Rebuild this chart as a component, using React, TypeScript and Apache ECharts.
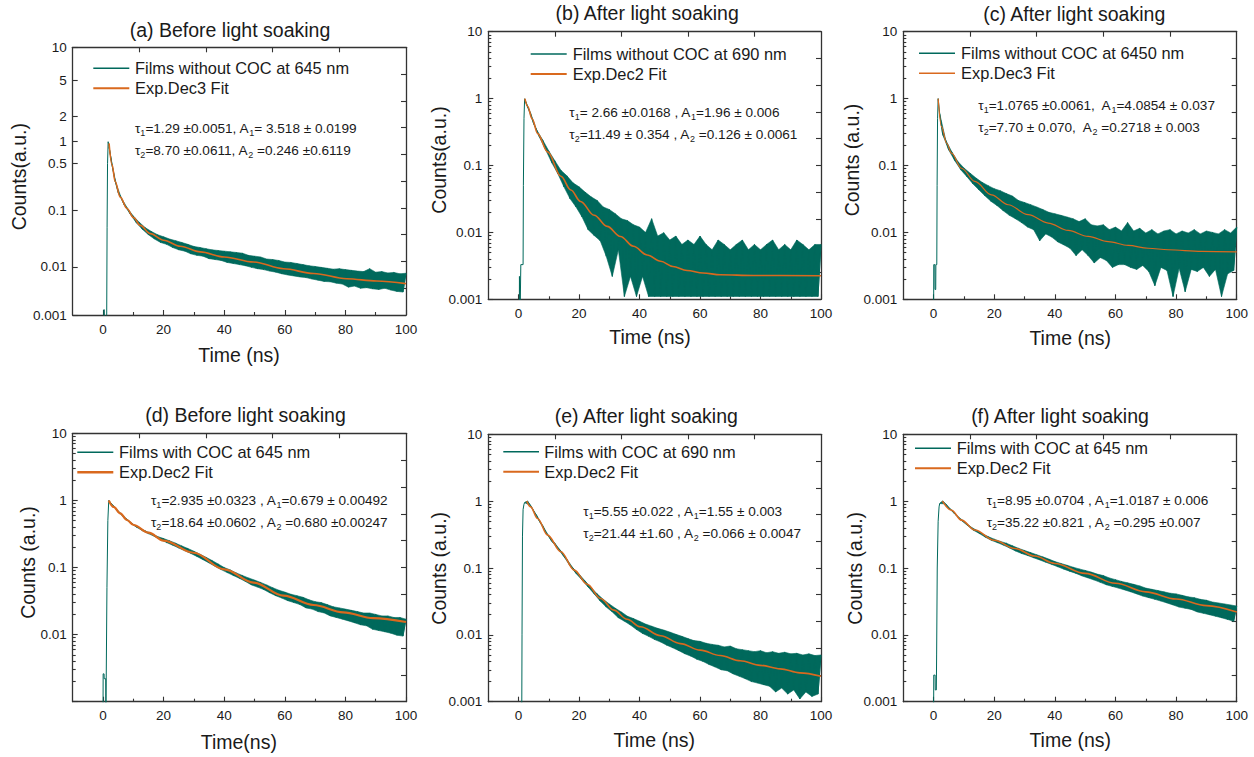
import { useEffect, useRef } from "react";
import * as echarts from "echarts";

const FONT = "'Liberation Sans', Arial, Helvetica, sans-serif";
const TEAL = "#00695C";
const ORANGE = "#D9691E";
const AXIS = "#333333";
const TXT = "#1a1a1a";

// time channels of the decay part (ns)
const TIME = [
  2, 3, 4, 5, 6, 7, 8, 9, 10, 11, 12, 13, 14, 15, 16, 17, 18, 19, 20, 21,
  22, 23, 24, 25, 26, 27, 28, 29, 30, 31, 32, 33, 34, 35, 36, 37, 38, 39, 40, 41,
  42, 43, 44, 45, 46, 47, 48, 49, 50, 51, 52, 53, 54, 55, 56, 57, 58, 59, 60, 61,
  62, 63, 64, 65, 66, 67, 68, 69, 70, 71, 72, 73, 74, 75, 76, 77, 78, 79, 80, 81,
  82, 83, 84, 85, 86, 87, 88, 89, 90, 91, 92, 93, 94, 95, 96, 97, 98, 99, 100,
];

// ---------- panel (a)
const RISE_A = [[-10, 0.0005], [0.3, 0.0005], [0.35, 0.0013], [0.5, 0.0013], [0.55, 0.0005], [1.2, 0.0005], [1.35, 0.05], [1.5, 0.5], [1.7, 1.0]];
const DECAY_A = [
  0.85, 0.47, 0.275, 0.185, 0.155, 0.12, 0.108, 0.085, 0.079, 0.060,
  0.061, 0.046, 0.049, 0.037, 0.042, 0.031, 0.037, 0.027, 0.034, 0.025,
  0.031, 0.022, 0.029, 0.020, 0.027, 0.019, 0.025, 0.017, 0.023, 0.016,
  0.022, 0.0155, 0.021, 0.014, 0.020, 0.0135, 0.0195, 0.013, 0.019, 0.012,
  0.0185, 0.0115, 0.018, 0.011, 0.0175, 0.0105, 0.016, 0.0098, 0.0155, 0.0092,
  0.015, 0.0088, 0.0138, 0.0082, 0.0135, 0.0078, 0.013, 0.0072, 0.0122, 0.0068,
  0.012, 0.0065, 0.0115, 0.0062, 0.011, 0.006, 0.0105, 0.0056, 0.0102, 0.0053,
  0.0098, 0.005, 0.0094, 0.0049, 0.009, 0.0046, 0.0092, 0.0044, 0.0088, 0.0038,
  0.0085, 0.004, 0.0082, 0.0036, 0.008, 0.0037, 0.0092, 0.0035, 0.0078, 0.0034,
  0.008, 0.0036, 0.0075, 0.0033, 0.0077, 0.0031, 0.0072, 0.003, 0.0074,
];
const FIT_A = [[2, 0.95], [3, 0.48], [4, 0.27], [5.7, 0.157], [7.9, 0.106], [10.1, 0.074], [12.3, 0.054], [15.6, 0.0387], [20, 0.0296], [25.5, 0.0232], [32.1, 0.0184], [40, 0.015], [49.7, 0.0122], [59.6, 0.0092], [69.5, 0.0073], [80.4, 0.0057], [90.3, 0.0051], [100, 0.0045]];

// ---------- panel (b)
const RISE_B = [[-10, 0.0005], [0.25, 0.0005], [0.3, 0.0022], [0.45, 0.0022], [0.5, 0.0005], [0.7, 0.0005], [0.75, 0.0033], [1.5, 0.0033], [1.6, 0.05], [1.8, 0.5], [2.0, 0.98]];
const DECAY_B = [
  1.0, 0.75, 0.60, 0.42, 0.34, 0.26, 0.24, 0.17, 0.165, 0.11,
  0.118, 0.075, 0.085, 0.048, 0.07, 0.032, 0.055, 0.024, 0.048, 0.017,
  0.04, 0.011, 0.034, 0.009, 0.03, 0.0075, 0.024, 0.0044, 0.022, 0.0022,
  0.019, 0.0055, 0.016, 0.0011, 0.015, 0.0022, 0.013, 0.0011, 0.012, 0.0022,
  0.010, 0.0011, 0.016, 0.0011, 0.0088, 0.0011, 0.0099, 0.0011, 0.0077, 0.0011,
  0.0088, 0.0011, 0.0066, 0.0011, 0.0077, 0.0011, 0.0066, 0.0011, 0.0088, 0.0011,
  0.0066, 0.0011, 0.0055, 0.0011, 0.0077, 0.0011, 0.0066, 0.0011, 0.0055, 0.0011,
  0.0066, 0.0011, 0.0077, 0.0011, 0.0055, 0.0011, 0.0066, 0.0011, 0.0055, 0.0011,
  0.0066, 0.0011, 0.0077, 0.0011, 0.0055, 0.0011, 0.0066, 0.0011, 0.0055, 0.0011,
  0.0077, 0.0011, 0.0066, 0.0011, 0.0055, 0.0011, 0.0066, 0.0011, 0.0066,
];
const FIT_B = [[2.1, 1.0], [3, 0.77], [4.5, 0.5], [6.3, 0.30], [9.6, 0.16], [14, 0.069], [17.3, 0.043], [20.5, 0.029], [25, 0.018], [29.3, 0.0123], [33.7, 0.0087], [38, 0.0062], [42.5, 0.0046], [47, 0.0037], [51, 0.0031], [55.7, 0.0027], [61, 0.00247], [66.7, 0.00233], [77.7, 0.00227], [100, 0.00225]];

// ---------- panel (c)
const RISE_C = [[-10, 0.0005], [0, 0.0005], [0.05, 0.0033], [0.4, 0.0033], [0.45, 0.0014], [0.7, 0.0014], [0.75, 0.0033], [1.05, 0.0033], [1.15, 0.05], [1.3, 0.5], [1.5, 1.0]];
const DECAY_C = [
  0.6, 0.29, 0.24, 0.17, 0.16, 0.118, 0.115, 0.086, 0.092, 0.068,
  0.077, 0.053, 0.065, 0.043, 0.056, 0.035, 0.05, 0.029, 0.045, 0.025,
  0.042, 0.021, 0.038, 0.018, 0.035, 0.016, 0.030, 0.014, 0.028, 0.012,
  0.026, 0.011, 0.024, 0.0075, 0.022, 0.0095, 0.020, 0.0085, 0.019, 0.0072,
  0.018, 0.0065, 0.017, 0.0058, 0.016, 0.0045, 0.0145, 0.0055, 0.016, 0.0045,
  0.013, 0.0035, 0.0125, 0.0042, 0.013, 0.0038, 0.011, 0.003, 0.012, 0.0033,
  0.0105, 0.0033, 0.014, 0.003, 0.0105, 0.0028, 0.0115, 0.0032, 0.0098, 0.0026,
  0.011, 0.0016, 0.0095, 0.003, 0.0105, 0.0027, 0.011, 0.0011, 0.0095, 0.0029,
  0.0105, 0.0013, 0.0098, 0.0028, 0.011, 0.0026, 0.0095, 0.003, 0.0105, 0.0022,
  0.01, 0.0028, 0.0095, 0.0011, 0.011, 0.0024, 0.0098, 0.0027, 0.012,
];
const FIT_C = [[1.5, 1.0], [2.6, 0.38], [4.3, 0.215], [5.9, 0.153], [9.2, 0.091], [13.6, 0.058], [19.1, 0.0365], [24.6, 0.0259], [31.2, 0.0184], [37.8, 0.0138], [44.4, 0.0107], [51, 0.0087], [57.6, 0.0073], [64.2, 0.0064], [70.8, 0.0058], [77.4, 0.0055], [88.4, 0.0052], [100, 0.0051]];

// ---------- panel (d)
const RISE_D = [[-10, 0.0005], [0, 0.0005], [0.05, 0.0026], [0.35, 0.0026], [0.4, 0.0022], [0.9, 0.0022], [0.95, 0.0005], [1.1, 0.0005], [1.3, 0.05], [1.6, 0.5], [1.9, 1.0]];
const DECAY_D = [
  0.98, 0.87, 0.78, 0.68, 0.63, 0.55, 0.52, 0.46, 0.44, 0.40,
  0.39, 0.355, 0.35, 0.32, 0.32, 0.29, 0.29, 0.26, 0.27, 0.235,
  0.25, 0.215, 0.23, 0.195, 0.21, 0.178, 0.192, 0.162, 0.175, 0.146,
  0.158, 0.131, 0.142, 0.117, 0.127, 0.104, 0.113, 0.093, 0.100, 0.084,
  0.092, 0.076, 0.083, 0.069, 0.076, 0.062, 0.070, 0.055, 0.065, 0.051,
  0.060, 0.047, 0.055, 0.042, 0.050, 0.038, 0.046, 0.035, 0.043, 0.032,
  0.040, 0.030, 0.038, 0.028, 0.036, 0.025, 0.033, 0.024, 0.031, 0.022,
  0.030, 0.021, 0.028, 0.019, 0.026, 0.018, 0.025, 0.017, 0.024, 0.016,
  0.023, 0.015, 0.022, 0.014, 0.021, 0.0135, 0.021, 0.012, 0.020, 0.0115,
  0.019, 0.011, 0.019, 0.0105, 0.018, 0.0098, 0.018, 0.0095, 0.017,
];
const FIT_D = [[1.9, 1.0], [3.5, 0.8], [5.7, 0.64], [7.9, 0.51], [10.1, 0.43], [15, 0.33], [20, 0.252], [29.9, 0.166], [40, 0.094], [49.7, 0.0596], [59.6, 0.038], [69.5, 0.0276], [79.3, 0.0215], [89.2, 0.0176], [100, 0.0154]];

// ---------- panel (e)
const RISE_E = [[-10, 0.0005], [1.05, 0.0005], [1.15, 0.01], [1.3, 0.3], [1.5, 0.75], [1.8, 0.9]];
const DECAY_E = [
  0.95, 1.0, 0.86, 0.71, 0.61, 0.49, 0.43, 0.34, 0.30, 0.25,
  0.235, 0.195, 0.18, 0.148, 0.135, 0.108, 0.10, 0.083, 0.081, 0.066,
  0.064, 0.052, 0.051, 0.041, 0.041, 0.032, 0.034, 0.026, 0.029, 0.022,
  0.025, 0.018, 0.022, 0.016, 0.019, 0.014, 0.0175, 0.012, 0.016, 0.0105,
  0.0145, 0.0095, 0.0135, 0.0085, 0.0125, 0.0078, 0.0118, 0.007, 0.011, 0.0064,
  0.0102, 0.0058, 0.0095, 0.0052, 0.0088, 0.0048, 0.0082, 0.0043, 0.008, 0.004,
  0.0075, 0.0036, 0.0072, 0.0033, 0.007, 0.003, 0.0066, 0.0029, 0.0068, 0.0026,
  0.0062, 0.0024, 0.006, 0.0022, 0.0058, 0.002, 0.0056, 0.0019, 0.0058, 0.0018,
  0.0054, 0.0017, 0.0056, 0.0014, 0.0053, 0.0016, 0.0055, 0.0013, 0.0052, 0.0015,
  0.0053, 0.0011, 0.005, 0.0014, 0.0052, 0.0012, 0.0049, 0.0013, 0.005,
];
const FIT_E = [[2.7, 1.0], [4, 0.82], [6.3, 0.55], [9.6, 0.31], [14, 0.175], [18.4, 0.093], [22.7, 0.057], [27.1, 0.035], [31.5, 0.0234], [35.9, 0.0171], [40.3, 0.0132], [47, 0.0097], [53.5, 0.0074], [60.1, 0.0059], [66.7, 0.0049], [73.3, 0.0041], [79.9, 0.0035], [86.5, 0.0031], [93, 0.0027], [100, 0.0024]];

// ---------- panel (f)
const RISE_F = [[-10, 0.0005], [0, 0.0005], [0.05, 0.0025], [0.5, 0.0025], [0.55, 0.0015], [0.9, 0.0015], [1.0, 0.005], [1.2, 0.1], [1.5, 0.5], [1.8, 0.82]];
const DECAY_F = [
  0.92, 1.0, 0.91, 0.79, 0.73, 0.64, 0.59, 0.52, 0.50, 0.44,
  0.42, 0.37, 0.37, 0.33, 0.325, 0.29, 0.295, 0.26, 0.27, 0.24,
  0.25, 0.22, 0.235, 0.20, 0.215, 0.18, 0.197, 0.165, 0.183, 0.154,
  0.17, 0.142, 0.158, 0.132, 0.147, 0.122, 0.136, 0.113, 0.125, 0.104,
  0.117, 0.096, 0.110, 0.089, 0.103, 0.083, 0.097, 0.076, 0.092, 0.071,
  0.087, 0.066, 0.081, 0.061, 0.077, 0.056, 0.071, 0.053, 0.067, 0.050,
  0.063, 0.047, 0.060, 0.044, 0.057, 0.041, 0.054, 0.038, 0.050, 0.036,
  0.048, 0.034, 0.046, 0.032, 0.044, 0.030, 0.042, 0.028, 0.041, 0.026,
  0.039, 0.025, 0.037, 0.024, 0.036, 0.022, 0.034, 0.021, 0.033, 0.020,
  0.031, 0.019, 0.030, 0.018, 0.029, 0.017, 0.028, 0.016, 0.027,
];
const FIT_F = [[2.9, 1.0], [5.9, 0.73], [9.2, 0.52], [13.6, 0.37], [20, 0.26], [26.8, 0.196], [33.4, 0.151], [40, 0.117], [50, 0.083], [60, 0.059], [70, 0.044], [80, 0.0344], [90, 0.0274], [100, 0.0219]];

// ---------- ticks
const X_MAJOR = [0, 20, 40, 60, 80, 100];
const X_MINOR = [10, 30, 50, 70, 90];
const TOP_TICKS = [1, 2, 3, 4];
const RIGHT_TICKS = [1, 2, 3, 4, 5, 6, 7, 8, 9];
const LOG_MINOR = [
  0.002, 0.003, 0.004, 0.005, 0.006, 0.007, 0.008, 0.009,
  0.02, 0.03, 0.04, 0.05, 0.06, 0.07, 0.08, 0.09,
  0.2, 0.3, 0.4, 0.5, 0.6, 0.7, 0.8, 0.9,
  2, 3, 4, 5, 6, 7, 8, 9,
];
// panel (a) has an uneven (non-log) vertical scale: label values and their relative heights
const A_TICK_VALUES = [10, 5, 2, 1, 0.5, 0.1, 0.01, 0.001];
const A_TICK_LABELS = ["10", "5", "2", "1", "0.5", "0.1", "0.01", "0.001"];
const A_TICK_FRAC = [0, 0.1233, 0.2592, 0.3527, 0.4348, 0.6085, 0.8205, 1];

function warpA(v: number): number {
  const u = 1 - Math.log10(v);
  const us = A_TICK_VALUES.map((x) => 1 - Math.log10(x));
  for (let i = 0; i < us.length - 1; i++) {
    if (u <= us[i + 1] || i === us.length - 2) {
      const f = (u - us[i]) / (us[i + 1] - us[i]);
      return A_TICK_FRAC[i] + f * (A_TICK_FRAC[i + 1] - A_TICK_FRAC[i]);
    }
  }
  return 1;
}

type Panel = {
  rise: number[][];
  decay: number[];
  fit: number[][];
  grid: number[];
  warped?: boolean;
  hideMin?: boolean;
  title: [string, number, number];
  yName: [string, number, number];
  xName: [string, number, number];
  legend: { x1: number; x2: number; tx: number; y1: number; y2: number; l1: string; l2: string; fitW: number };
  ann: { x: number; y1: number; y2: number; l1: string; l2: string };
};

const PANELS: Panel[] = [
  {
    rise: RISE_A, decay: DECAY_A, fit: FIT_A, grid: [72.7, 47.3, 333.3, 267.7], warped: true,
    title: ["(a) Before light soaking", 230, 30],
    yName: ["Counts(a.u.)", 18.5, 176.7],
    xName: ["Time (ns)", 239, 355],
    legend: { x1: 93.3, x2: 129.3, tx: 135, y1: 68.3, y2: 88.3, l1: "Films without COC at 645 nm", l2: "Exp.Dec3 Fit", fitW: 1.6 },
    ann: { x: 135, y1: 128.3, y2: 150, l1: "{n|τ}{s|1}{n|=1.29 ±0.0051, A}{s|1}{n|= 3.518 ± 0.0199}", l2: "{n|τ}{s|2}{n|=8.70 ±0.0611, A}{s|2}{n| =0.246 ±0.6119}" },
  },
  {
    rise: RISE_B, decay: DECAY_B, fit: FIT_B, grid: [488.3, 31.7, 332.7, 267.6],
    title: ["(b) After light soaking", 647.2, 13.3],
    yName: ["Counts(a.u.)", 439, 160],
    xName: ["Time (ns)", 650, 336.7],
    legend: { x1: 530.7, x2: 566.7, tx: 572.7, y1: 54, y2: 74, l1: "Films without COC at 690 nm", l2: "Exp.Dec2 Fit", fitW: 1.6 },
    ann: { x: 569.3, y1: 112.7, y2: 134.3, l1: "{n|τ}{s|1}{n|= 2.66 ±0.0168 , A}{s|1}{n|=1.96 ± 0.006}", l2: "{n|τ}{s|2}{n|=11.49 ± 0.354 , A}{s|2}{n| =0.126 ± 0.0061}" },
  },
  {
    rise: RISE_C, decay: DECAY_C, fit: FIT_C, grid: [903.3, 31.7, 333.4, 267.6],
    title: ["(c) After light soaking", 1074.2, 14],
    yName: ["Counts (a.u.)", 851.7, 160],
    xName: ["Time (ns)", 1070.2, 338.3],
    legend: { x1: 919, x2: 955, tx: 961, y1: 53.3, y2: 73.3, l1: "Films without COC at 6450 nm", l2: "Exp.Dec3 Fit", fitW: 1.2 },
    ann: { x: 978.3, y1: 105.3, y2: 127.3, l1: "{n|τ}{s|1}{n|=1.0765 ±0.0061,  A}{s|1}{n|=4.0854 ± 0.037}", l2: "{n|τ}{s|2}{n|=7.70 ± 0.070,  A}{s|2}{n| =0.2718 ± 0.003}" },
  },
  {
    rise: RISE_D, decay: DECAY_D, fit: FIT_D, grid: [72.7, 433.3, 333.3, 268.4], hideMin: true,
    title: ["(d) Before light soaking", 245.5, 415],
    yName: ["Counts (a.u.)", 28.3, 562.5],
    xName: ["Time(ns)", 238.8, 741.7],
    legend: { x1: 77.3, x2: 113.3, tx: 119, y1: 452.3, y2: 472.3, l1: "Films with COC at 645 nm", l2: "Exp.Dec2 Fit", fitW: 2.2 },
    ann: { x: 151, y1: 500.3, y2: 522.3, l1: "{n|τ}{s|1}{n|=2.935 ±0.0323 , A}{s|1}{n|=0.679 ± 0.00492}", l2: "{n|τ}{s|2}{n|=18.64 ±0.0602 , A}{s|2}{n| =0.680 ±0.00247}" },
  },
  {
    rise: RISE_E, decay: DECAY_E, fit: FIT_E, grid: [488.3, 434.3, 332.7, 267.4],
    title: ["(e) After light soaking", 646.3, 415.7],
    yName: ["Counts (a.u.)", 439, 568.3],
    xName: ["Time (ns)", 654.3, 740],
    legend: { x1: 503.3, x2: 539, tx: 544.3, y1: 451.7, y2: 471.7, l1: "Films with COC at 690 nm", l2: "Exp.Dec2 Fit", fitW: 1.6 },
    ann: { x: 583.3, y1: 511.7, y2: 533.3, l1: "{n|τ}{s|1}{n|=5.55 ±0.022 , A}{s|1}{n|=1.55 ± 0.003}", l2: "{n|τ}{s|2}{n|=21.44 ±1.60 , A}{s|2}{n| =0.066 ± 0.0047}" },
  },
  {
    rise: RISE_F, decay: DECAY_F, fit: FIT_F, grid: [903.3, 434.3, 333.4, 267.4],
    title: ["(f) After light soaking", 1060, 415.7],
    yName: ["Counts (a.u.)", 855, 568.3],
    xName: ["Time (ns)", 1070.2, 740],
    legend: { x1: 915, x2: 951, tx: 956.7, y1: 448.3, y2: 468.3, l1: "Films with COC at 645 nm", l2: "Exp.Dec2 Fit", fitW: 1.6 },
    ann: { x: 986.7, y1: 500.3, y2: 522.3, l1: "{n|τ}{s|1}{n|=8.95 ±0.0704 , A}{s|1}{n|=1.0187 ± 0.006}", l2: "{n|τ}{s|2}{n|=35.22 ±0.821 , A}{s|2}{n| =0.295 ±0.007}" },
  },
];

function text(str: string, x: number, y: number, size: number, align = "center", rotation = 0) {
  return {
    type: "text",
    x,
    y,
    rotation,
    silent: true,
    style: {
      text: str,
      x: 0,
      y: 0,
      fontSize: size,
      fontFamily: FONT,
      fill: TXT,
      align,
      verticalAlign: "middle",
      textAlign: align,
      textVerticalAlign: "middle",
    },
  };
}

function richText(str: string, x: number, y: number) {
  return {
    type: "text",
    x,
    y,
    silent: true,
    style: {
      text: str,
      x: 0,
      y: 0,
      fontSize: 13.6,
      fontFamily: FONT,
      fill: TXT,
      align: "left",
      verticalAlign: "middle",
      textAlign: "left",
      textVerticalAlign: "middle",
      rich: {
        n: { fontSize: 13.6, fontFamily: FONT, fill: TXT, lineHeight: 20, verticalAlign: "middle" },
        s: { fontSize: 9, fontFamily: FONT, fill: TXT, verticalAlign: "bottom", padding: [0, 0, 1, 0] },
      },
    },
  };
}

function buildOption() {
  const grid: any[] = [];
  const xAxis: any[] = [];
  const yAxis: any[] = [];
  const series: any[] = [];
  const graphic: any[] = [];
  const lineStyle = { color: AXIS, width: 1.3 };
  const tickStyle = { color: AXIS, width: 1.1 };

  PANELS.forEach((p, i) => {
    const [l, t, w, h] = p.grid;
    grid.push({ left: l, top: t, width: w, height: h, containLabel: false });
    const tx = (pt: number[]) => (p.warped ? [pt[0], warpA(pt[1])] : pt);

    xAxis.push(
      {
        gridIndex: i, type: "value", min: -10, max: 100, position: "bottom",
        axisLine: { onZero: false, lineStyle },
        axisTick: { inside: true, length: 5, lineStyle: tickStyle, customValues: X_MAJOR },
        axisLabel: { customValues: X_MAJOR, color: TXT, fontSize: 13.5, fontFamily: FONT, margin: 7 },
        splitLine: { show: false },
      },
      {
        gridIndex: i, type: "value", min: -10, max: 100, position: "bottom",
        axisLine: { show: false, onZero: false },
        axisTick: { inside: true, length: 3, lineStyle: tickStyle, customValues: X_MINOR },
        axisLabel: { show: false }, splitLine: { show: false },
      },
      {
        gridIndex: i, type: "value", min: 0, max: 5, position: "top",
        axisLine: { onZero: false, lineStyle },
        axisTick: { inside: true, length: 5, lineStyle: tickStyle, customValues: TOP_TICKS },
        axisLabel: { show: false }, splitLine: { show: false },
      }
    );

    if (p.warped) {
      yAxis.push(
        {
          gridIndex: i, type: "value", min: 0, max: 1, inverse: true, position: "left",
          axisLine: { onZero: false, lineStyle },
          axisTick: { inside: true, length: 5, lineStyle: tickStyle, customValues: A_TICK_FRAC },
          axisLabel: {
            customValues: A_TICK_FRAC, color: TXT, fontSize: 13.5, fontFamily: FONT, margin: 6,
            formatter: (v: number) => {
              let best = 0;
              A_TICK_FRAC.forEach((f, k) => { if (Math.abs(f - v) < Math.abs(A_TICK_FRAC[best] - v)) best = k; });
              return A_TICK_LABELS[best];
            },
          },
          splitLine: { show: false },
        },
        { gridIndex: i, type: "value", min: 0, max: 1, inverse: true, position: "left", show: false, axisLine: { onZero: false } }
      );
    } else {
      yAxis.push(
        {
          gridIndex: i, type: "log", logBase: 10, min: 0.001, max: 10, position: "left",
          axisLine: { onZero: false, lineStyle },
          axisTick: { inside: true, length: 5, lineStyle: tickStyle },
          axisLabel: {
            color: TXT, fontSize: 13.5, fontFamily: FONT, margin: 6,
            formatter: (v: number) => {
              if (p.hideMin && v < 0.002) return "";
              return v >= 1 ? String(Math.round(v)) : String(parseFloat(v.toPrecision(1)));
            },
          },
          splitLine: { show: false },
        },
        {
          // minor log ticks: a linear axis over the decade exponents (-3 .. 1)
          gridIndex: i, type: "value", min: -3, max: 1, position: "left",
          axisLine: { show: false, onZero: false },
          axisTick: { inside: true, length: 3, lineStyle: tickStyle, customValues: LOG_MINOR.map((v) => Math.log10(v)) },
          axisLabel: { show: false }, splitLine: { show: false },
        }
      );
    }
    yAxis.push({
      gridIndex: i, type: "value", min: 0, max: 10, position: "right",
      axisLine: { onZero: false, lineStyle },
      axisTick: { inside: true, length: 5, lineStyle: tickStyle, customValues: RIGHT_TICKS },
      axisLabel: { show: false }, splitLine: { show: false },
    });

    const decayPts = TIME.map((tt, k) => [tt, p.decay[k]]);
    const hi = decayPts.filter((_, k) => k % 2 === 0);
    const lo = decayPts.filter((_, k) => k % 2 === 1).reverse();
    const poly = [...hi, ...lo].map(tx);
    const green = [...p.rise, ...decayPts].map(tx);

    series.push(
      {
        type: "custom", xAxisIndex: 3 * i, yAxisIndex: 3 * i, silent: true, z: 2,
        data: [[50, p.warped ? 0.5 : 0.1]],
        renderItem: (_params: any, api: any) => ({
          type: "polygon",
          shape: { points: poly.map((pt) => api.coord(pt)) },
          style: { fill: TEAL, stroke: TEAL, lineWidth: 0.6 },
        }),
      },
      {
        type: "line", xAxisIndex: 3 * i, yAxisIndex: 3 * i, data: green, showSymbol: false, symbol: "none",
        lineStyle: { color: TEAL, width: 1 }, clip: true, silent: true, z: 3,
      },
      {
        type: "line", xAxisIndex: 3 * i, yAxisIndex: 3 * i, data: p.fit.map(tx), showSymbol: false, symbol: "none",
        smooth: 0.35, smoothMonotone: "x",
        lineStyle: { color: ORANGE, width: p.legend.fitW }, clip: true, silent: true, z: 4,
      }
    );

    graphic.push(text(p.title[0], p.title[1], p.title[2], 19.5));
    graphic.push(text(p.yName[0], p.yName[1], p.yName[2], 19.5, "center", Math.PI / 2));
    graphic.push(text(p.xName[0], p.xName[1], p.xName[2], 19.5));
    const lg = p.legend;
    graphic.push({ type: "line", silent: true, shape: { x1: lg.x1, y1: lg.y1, x2: lg.x2, y2: lg.y1 }, style: { stroke: TEAL, lineWidth: 1.5 } });
    graphic.push({ type: "line", silent: true, shape: { x1: lg.x1, y1: lg.y2, x2: lg.x2, y2: lg.y2 }, style: { stroke: ORANGE, lineWidth: lg.fitW + 0.3 } });
    graphic.push(text(lg.l1, lg.tx, lg.y1, 16.4, "left"));
    graphic.push(text(lg.l2, lg.tx, lg.y2, 16.4, "left"));
    graphic.push(richText(p.ann.l1, p.ann.x, p.ann.y1));
    graphic.push(richText(p.ann.l2, p.ann.x, p.ann.y2));
  });

  return {
    animation: false,
    backgroundColor: "#ffffff",
    grid,
    xAxis,
    yAxis,
    series,
    graphic: { elements: graphic },
  };
}

export default function App() {
  const ref = useRef<HTMLDivElement>(null);
  useEffect(() => {
    if (!ref.current) return;
    const chart = echarts.init(ref.current, null, { renderer: "svg" });
    chart.setOption(buildOption() as any);
    return () => chart.dispose();
  }, []);
  return (
    <div
      ref={ref}
      style={{ position: "fixed", left: 0, top: 0, width: 1254, height: 757, background: "#fff" }}
    />
  );
}
